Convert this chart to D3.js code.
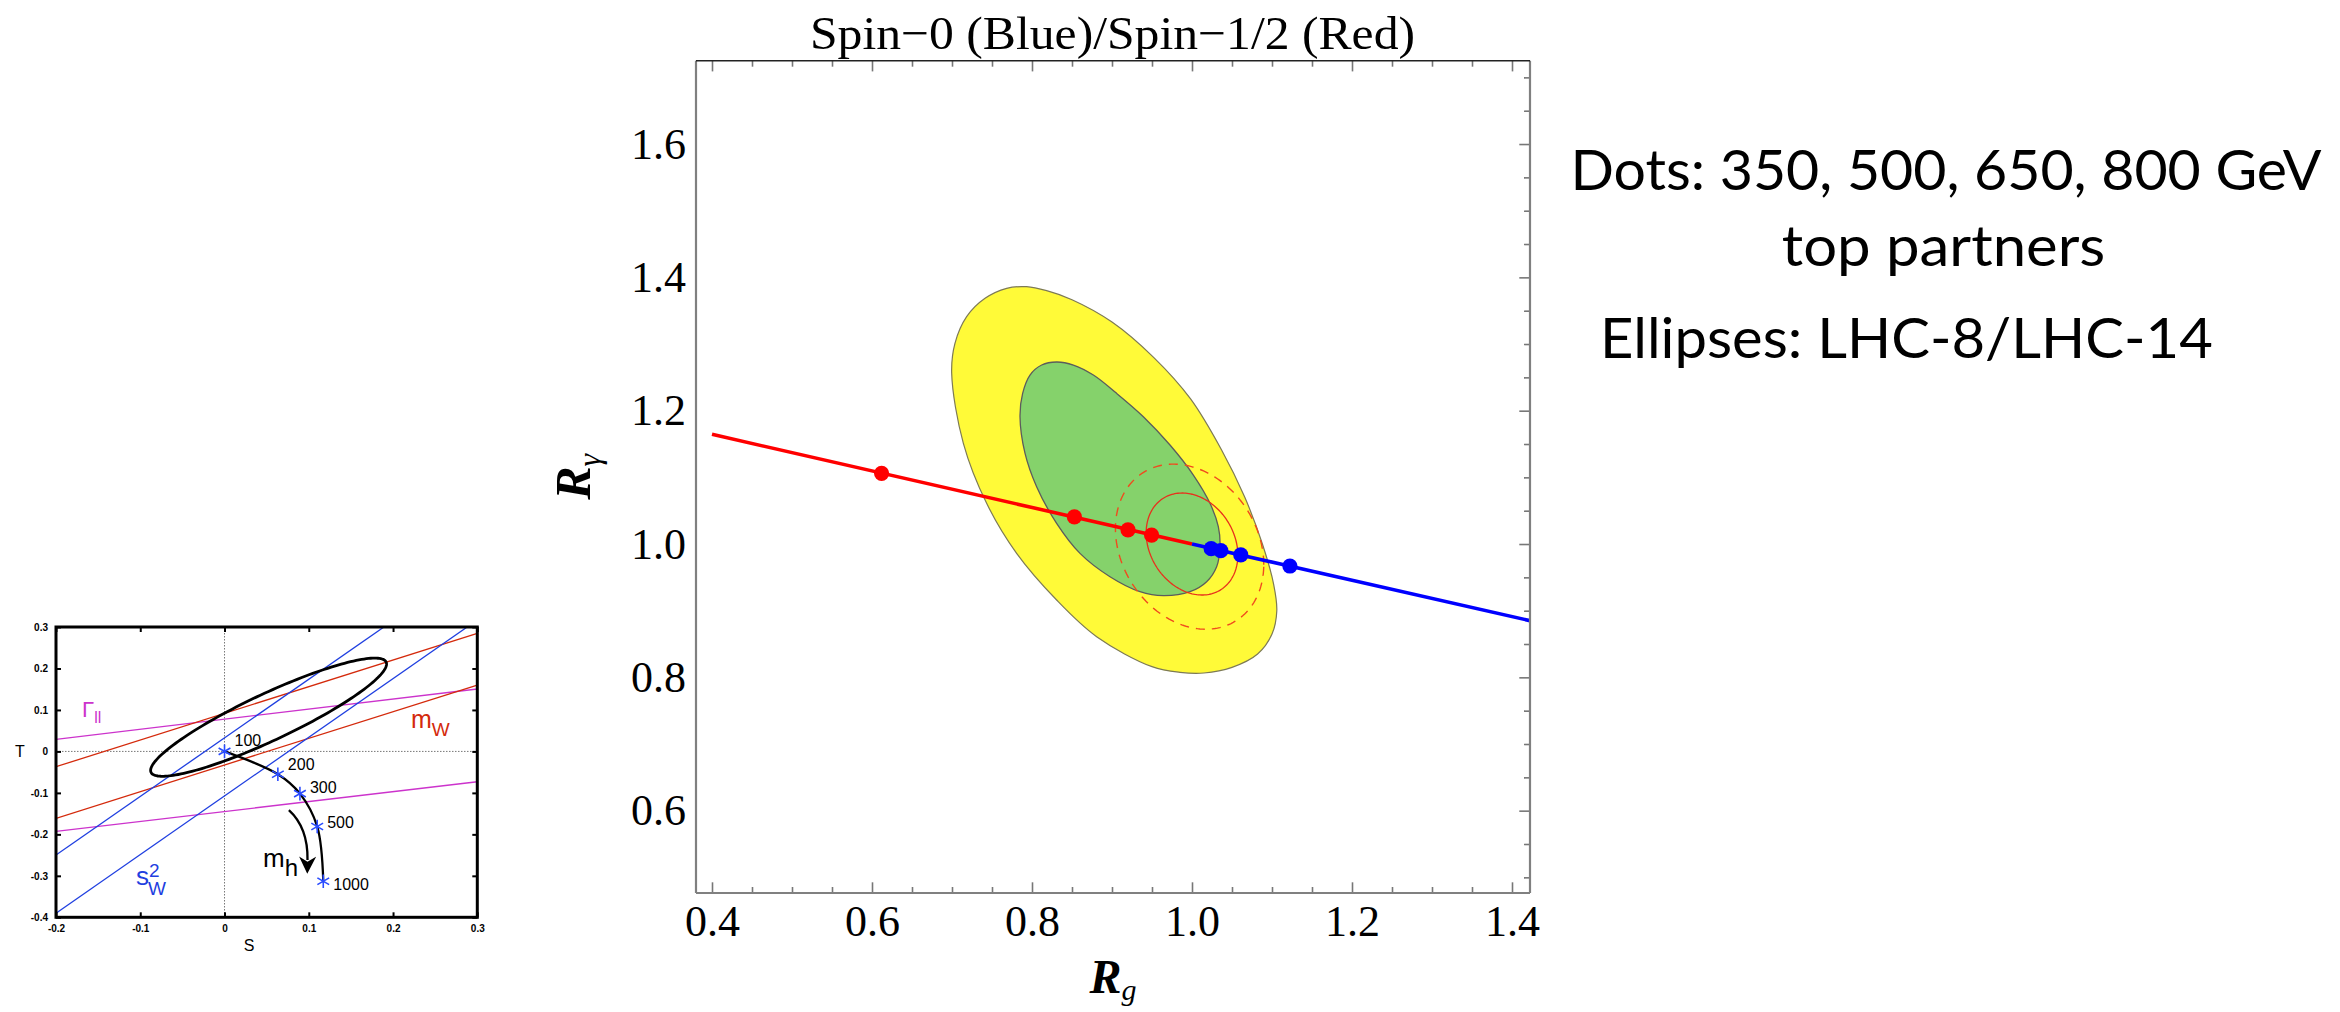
<!DOCTYPE html>
<html>
<head>
<meta charset="utf-8">
<script src="https://cdn.jsdelivr.net/npm/d3@7"></script>
<style>
  body { margin: 0; background: #fff; }
  svg { display: block; }
</style>
</head>
<body>
<div id="chart"></div>
<script>
// ---------- main chart data (Rg, Rgamma) ----------
var spinHalfLine = [[0.4, 1.1645], [1.0, 1.0]];
var spinZeroLine = [[1.0, 1.0], [1.4225, 0.885]];
var spinHalfDots = [[0.612, 1.106], [0.853, 1.0406], [0.920, 1.0213], [0.9495, 1.0132]];
var spinZeroDots = [[1.024, 0.993], [1.036, 0.990], [1.061, 0.9837], [1.1224, 0.967]];

// LHC-8 contours
var lhc8Outer = [[0.6996, 1.256], [0.7037, 1.301], [0.7183, 1.341], [0.7413, 1.3685], [0.7683, 1.3835],
  [0.7933, 1.386], [0.8183, 1.38], [0.85, 1.3665], [0.9, 1.333], [0.952, 1.28], [0.998, 1.218],
  [1.037, 1.141], [1.066, 1.07], [1.088, 1.0], [1.102, 0.94], [1.106, 0.9], [1.1, 0.865],
  [1.082, 0.835], [1.05, 0.815], [1.015, 0.8065], [0.985, 0.8075], [0.95, 0.816], [0.8808, 0.861],
  [0.8308, 0.916], [0.7808, 0.986], [0.7433, 1.061], [0.7142, 1.151]];
var lhc8Inner = [[0.785, 1.191], [0.7883, 1.226], [0.7975, 1.2535], [0.8121, 1.2685], [0.8308, 1.273],
  [0.8517, 1.2685], [0.8767, 1.2535], [0.9058, 1.226], [0.9392, 1.191], [0.9725, 1.1485], [1.0017, 1.1035],
  [1.0225, 1.061], [1.0329, 1.026], [1.035, 0.996], [1.0308, 0.966], [1.0183, 0.9435], [0.9975, 0.9285],
  [0.9642, 0.9225], [0.935, 0.9285], [0.8975, 0.951], [0.86, 0.986], [0.8308, 1.031], [0.8058, 1.086],
  [0.7913, 1.136]];
// LHC-14 ellipses: centre x, centre y, sigma x, sigma y, correlation
var lhc14Inner = [1.0, 1.0, 0.0573, 0.0765, -0.218];
var lhc14Outer = [0.997, 0.996, 0.0927, 0.1238, -0.218];

var xTicks = [0.4, 0.6, 0.8, 1.0, 1.2, 1.4];
var yTicks = [0.6, 0.8, 1.0, 1.2, 1.4, 1.6];
var xMinor = [0.45, 0.5, 0.55, 0.65, 0.7, 0.75, 0.85, 0.9, 0.95, 1.05, 1.1, 1.15, 1.25, 1.3, 1.35];
var yMinor = [0.5, 0.55, 0.65, 0.7, 0.75, 0.85, 0.9, 0.95, 1.05, 1.1, 1.15, 1.25, 1.3, 1.35, 1.45, 1.5, 1.55, 1.65, 1.7];
var noteLines = ["Dots: 350, 500, 650, 800 GeV", "top partners", "Ellipses: LHC-8/LHC-14"];

// ---------- inset S-T plot data ----------
var gammaLines = [[[-0.2, 0.0292], [0.3, 0.1505]], [[-0.2, -0.1927], [0.3, -0.0731]]];
var mwLines = [[[-0.2, -0.0369], [0.3, 0.2848]], [[-0.2, -0.1614], [0.3, 0.1601]]];
var sw2Lines = [[[-0.2, -0.2498], [0.1892, 0.3]], [[-0.2, -0.3904], [0.288, 0.3]]];
var stEllipse = [0.0523, 0.0825, 0.14, 0.1425, 0.9];
var higgsMass = [100, 200, 300, 500, 1000];
var higgsS = [0, 0.0633, 0.0895, 0.110, 0.1172];
var higgsT = [0, -0.055, -0.1017, -0.181, -0.313];
var insetTicksS = [-0.2, -0.1, 0, 0.1, 0.2, 0.3];
var insetTicksT = [-0.4, -0.3, -0.2, -0.1, 0, 0.1, 0.2, 0.3];

var svgWidth = 2340;
var svgHeight = 1012;

var svg = d3.select("#chart")
  .append("svg")
  .attr("width", svgWidth)
  .attr("height", svgHeight);

// ellipse outline from centre / sigmas / correlation
function ellipsePoints(e) {
  return d3.range(0, 361, 2).map(function(a) {
    var t = a * Math.PI / 180;
    return [e[0] + e[2] * Math.cos(t),
            e[1] + e[3] * (e[4] * Math.cos(t) + Math.sqrt(1 - e[4] * e[4]) * Math.sin(t))];
  });
}

// ================= main chart =================
var frame = { left: 696, right: 1530, top: 60.7, bottom: 893 };

var xScale = d3.scaleLinear().domain([0.38, 1.4225]).range([frame.left, frame.right]);
var yScale = d3.scaleLinear().domain([0.4765, 1.725]).range([frame.bottom, frame.top]);

svg.append("clipPath").attr("id", "plotClip")
  .append("rect")
  .attr("x", frame.left).attr("y", frame.top)
  .attr("width", frame.right - frame.left).attr("height", frame.bottom - frame.top);

var plot = svg.append("g").attr("clip-path", "url(#plotClip)");

var line = d3.line().x(d => xScale(d[0])).y(d => yScale(d[1]));
var closedLine = d3.line().x(d => xScale(d[0])).y(d => yScale(d[1])).curve(d3.curveCatmullRomClosed);

plot.append("path").attr("d", closedLine(lhc8Outer))
  .attr("fill", "#fffa38").attr("stroke", "#7d7a55").attr("stroke-width", 1.2);
plot.append("path").attr("d", closedLine(lhc8Inner))
  .attr("fill", "#85d26b").attr("stroke", "#5c5c5c").attr("stroke-width", 1.3);

plot.append("path").attr("d", line(ellipsePoints(lhc14Outer)))
  .attr("fill", "none").attr("stroke", "#f04a1e").attr("stroke-width", 1.4)
  .attr("stroke-dasharray", "9,7");
plot.append("path").attr("d", line(ellipsePoints(lhc14Inner)))
  .attr("fill", "none").attr("stroke", "#e8301c").attr("stroke-width", 1.3);

plot.append("path").attr("d", line(spinHalfLine))
  .attr("fill", "none").attr("stroke", "#ff0000").attr("stroke-width", 3.6);
plot.append("path").attr("d", line(spinZeroLine))
  .attr("fill", "none").attr("stroke", "#0000ff").attr("stroke-width", 3.6);

plot.selectAll(".redDot").data(spinHalfDots).enter().append("circle")
  .attr("cx", d => xScale(d[0])).attr("cy", d => yScale(d[1]))
  .attr("r", 7.6).attr("fill", "#ff0000");
plot.selectAll(".blueDot").data(spinZeroDots).enter().append("circle")
  .attr("cx", d => xScale(d[0])).attr("cy", d => yScale(d[1]))
  .attr("r", 7.6).attr("fill", "#0000ff");

// frame ticks (Mathematica style, pointing inward)
function styleAxis(g, labels) {
  g.select(".domain").remove();
  g.selectAll("line").attr("stroke", "#777").attr("stroke-width", 1.6);
  g.selectAll("text")
    .attr("fill", "#000")
    .style("font-family", "'Liberation Serif', 'Times New Roman', serif")
    .style("font-size", "44px");
  if (!labels) g.selectAll("text").remove();
}

svg.append("g").attr("transform", `translate(0, ${frame.bottom})`)
  .call(d3.axisBottom(xScale).tickValues(xTicks).tickFormat(d3.format(".1f"))
    .tickSizeInner(-10.7).tickSizeOuter(0).tickPadding(12))
  .call(g => styleAxis(g, true));
svg.append("g").attr("transform", `translate(0, ${frame.bottom})`)
  .call(d3.axisBottom(xScale).tickValues(xMinor).tickSizeInner(-6).tickSizeOuter(0))
  .call(g => styleAxis(g, false));
svg.append("g").attr("transform", `translate(0, ${frame.top})`)
  .call(d3.axisTop(xScale).tickValues(xTicks).tickSizeInner(-10.7).tickSizeOuter(0))
  .call(g => styleAxis(g, false));
svg.append("g").attr("transform", `translate(0, ${frame.top})`)
  .call(d3.axisTop(xScale).tickValues(xMinor).tickSizeInner(-6).tickSizeOuter(0))
  .call(g => styleAxis(g, false));

svg.append("g").attr("transform", `translate(${frame.left}, 0)`)
  .call(d3.axisLeft(yScale).tickValues(yTicks).tickFormat(d3.format(".1f"))
    .tickSizeInner(0).tickSizeOuter(0).tickPadding(10))
  .call(g => styleAxis(g, true));
svg.append("g").attr("transform", `translate(${frame.right}, 0)`)
  .call(d3.axisRight(yScale).tickValues(yTicks).tickSizeInner(-10.7).tickSizeOuter(0))
  .call(g => styleAxis(g, false));
svg.append("g").attr("transform", `translate(${frame.right}, 0)`)
  .call(d3.axisRight(yScale).tickValues(yMinor).tickSizeInner(-6).tickSizeOuter(0))
  .call(g => styleAxis(g, false));

// frame lines
var frameG = svg.append("g").attr("fill", "none");
frameG.append("line").attr("x1", frame.left).attr("x2", frame.right)
  .attr("y1", frame.bottom).attr("y2", frame.bottom).attr("stroke", "#808080").attr("stroke-width", 2.2);
frameG.append("line").attr("x1", frame.left).attr("x2", frame.left)
  .attr("y1", frame.top).attr("y2", frame.bottom).attr("stroke", "#808080").attr("stroke-width", 2.2);
frameG.append("line").attr("x1", frame.right).attr("x2", frame.right)
  .attr("y1", frame.top).attr("y2", frame.bottom).attr("stroke", "#808080").attr("stroke-width", 2.2);
frameG.append("line").attr("x1", frame.left).attr("x2", frame.right)
  .attr("y1", frame.top).attr("y2", frame.top).attr("stroke", "#222").attr("stroke-width", 1.6);

// title and axis labels
svg.append("text")
  .attr("x", 810).attr("y", 49)
  .attr("textLength", 605).attr("lengthAdjust", "spacingAndGlyphs")
  .style("font-family", "'Liberation Serif', 'Times New Roman', serif")
  .style("font-size", "47px")
  .text("Spin\u22120 (Blue)/Spin\u22121/2 (Red)");

var rg = svg.append("text")
  .attr("x", (frame.left + frame.right) / 2).attr("y", 993)
  .attr("text-anchor", "middle")
  .style("font-family", "'Liberation Serif', 'Times New Roman', serif")
  .style("font-style", "italic");
rg.append("tspan").style("font-size", "48px").style("font-weight", "bold").text("R");
rg.append("tspan").style("font-size", "30px").attr("dy", 7).text("g");

var ry = svg.append("text")
  .attr("transform", `translate(590, ${(frame.top + frame.bottom) / 2}) rotate(-90)`)
  .attr("text-anchor", "middle")
  .style("font-family", "'Liberation Serif', 'Times New Roman', serif")
  .style("font-style", "italic");
ry.append("tspan").style("font-size", "50px").style("font-weight", "bold").text("R");
ry.append("tspan").style("font-size", "32px").attr("dy", 10).text("\u03B3");

// notes on the right
var notePos = [[1570.5, 190, 751], [1781.8, 266, 323.5], [1600, 358, 612.8]];
svg.selectAll(".note").data(noteLines).enter().append("text")
  .attr("x", (d, i) => notePos[i][0])
  .attr("y", (d, i) => notePos[i][1])
  .attr("textLength", (d, i) => notePos[i][2])
  .attr("lengthAdjust", "spacingAndGlyphs")
  .style("font-family", "Lato, 'Open Sans', sans-serif")
  .style("font-size", "57px")
  .text(d => d);

// ================= inset S-T plot =================
var inset = { left: 56, right: 477.3, top: 627, bottom: 917.3 };
var sScale = d3.scaleLinear().domain([-0.2, 0.3]).range([inset.left, inset.right]);
var tScale = d3.scaleLinear().domain([-0.4, 0.3]).range([inset.bottom, inset.top]);
var stLine = d3.line().x(d => sScale(d[0])).y(d => tScale(d[1]));

svg.append("clipPath").attr("id", "insetClip")
  .append("rect")
  .attr("x", inset.left).attr("y", inset.top)
  .attr("width", inset.right - inset.left).attr("height", inset.bottom - inset.top);
var ip = svg.append("g").attr("clip-path", "url(#insetClip)");

// zero lines
ip.append("line").attr("x1", sScale(0)).attr("x2", sScale(0))
  .attr("y1", inset.top).attr("y2", inset.bottom)
  .attr("stroke", "#777").attr("stroke-width", 1).attr("stroke-dasharray", "1.5,1.5");
ip.append("line").attr("x1", inset.left).attr("x2", inset.right)
  .attr("y1", tScale(0)).attr("y2", tScale(0))
  .attr("stroke", "#777").attr("stroke-width", 1).attr("stroke-dasharray", "1.5,1.5");

ip.selectAll(".gl").data(gammaLines).enter().append("path")
  .attr("d", stLine).attr("fill", "none").attr("stroke", "#cc33cc").attr("stroke-width", 1.3);
ip.selectAll(".ml").data(mwLines).enter().append("path")
  .attr("d", stLine).attr("fill", "none").attr("stroke", "#d42a0c").attr("stroke-width", 1.3);
ip.selectAll(".sl").data(sw2Lines).enter().append("path")
  .attr("d", stLine).attr("fill", "none").attr("stroke", "#1f3fe0").attr("stroke-width", 1.3);

ip.append("path").attr("d", stLine(ellipsePoints(stEllipse)))
  .attr("fill", "none").attr("stroke", "#000").attr("stroke-width", 2.8);

var higgsPts = higgsMass.map((m, i) => [higgsS[i], higgsT[i]]);
ip.append("path").attr("d", stLine.curve(d3.curveCatmullRom)(higgsPts))
  .attr("fill", "none").attr("stroke", "#000").attr("stroke-width", 2.3);
stLine.curve(d3.curveLinear);

var star = d3.symbol().type(d3.symbolAsterisk || d3.symbolCross).size(130);
ip.selectAll(".star").data(higgsPts).enter().append("path")
  .attr("transform", d => `translate(${sScale(d[0])}, ${tScale(d[1])})`)
  .attr("d", star).attr("fill", "none").attr("stroke", "#2a4cff").attr("stroke-width", 1.6);

var labelDy = [-5, -4, -1, 2, 9];
svg.selectAll(".mass").data(higgsMass).enter().append("text")
  .attr("x", (d, i) => sScale(higgsS[i]) + 10)
  .attr("y", (d, i) => tScale(higgsT[i]) + labelDy[i])
  .style("font-family", "'Liberation Sans', Arial, sans-serif")
  .style("font-size", "16px")
  .text(d => d);

// m_h arrow
svg.append("defs").append("marker")
  .attr("id", "head").attr("viewBox", "0 0 10 10")
  .attr("refX", 2).attr("refY", 5)
  .attr("markerWidth", 18).attr("markerHeight", 17)
  .attr("markerUnits", "userSpaceOnUse")
  .attr("orient", "auto")
  .append("path").attr("d", "M0,0 L10,5 L0,10 L3,5 Z").attr("fill", "#000");
var a0 = [0.0764, -0.1415], a1 = [0.0992, -0.1837], a2 = [0.0985, -0.262];
svg.append("path")
  .attr("d", `M${sScale(a0[0])},${tScale(a0[1])} Q${sScale(a1[0])},${tScale(a1[1])} ${sScale(a2[0])},${tScale(a2[1])}`)
  .attr("fill", "none").attr("stroke", "#000").attr("stroke-width", 2.3)
  .attr("marker-end", "url(#head)");

// inset frame and ticks
function styleInset(g, labels) {
  g.select(".domain").remove();
  g.selectAll("line").attr("stroke", "#000").attr("stroke-width", 2);
  g.selectAll("text")
    .attr("fill", "#000")
    .style("font-family", "'Liberation Sans', Arial, sans-serif")
    .style("font-weight", "bold")
    .style("font-size", "10px");
  if (!labels) g.selectAll("text").remove();
}
var insetFmt = d => d === 0 ? "0" : d3.format(".1f")(d).replace("\u2212", "-");
svg.append("g").attr("transform", `translate(0, ${inset.bottom})`)
  .call(d3.axisBottom(sScale).tickValues(insetTicksS).tickFormat(insetFmt)
    .tickSizeInner(-5).tickSizeOuter(0).tickPadding(8))
  .call(g => styleInset(g, true));
svg.append("g").attr("transform", `translate(0, ${inset.top})`)
  .call(d3.axisTop(sScale).tickValues(insetTicksS).tickSizeInner(-5).tickSizeOuter(0))
  .call(g => styleInset(g, false));
svg.append("g").attr("transform", `translate(${inset.left}, 0)`)
  .call(d3.axisLeft(tScale).tickValues(insetTicksT).tickFormat(insetFmt)
    .tickSizeInner(-5).tickSizeOuter(0).tickPadding(8))
  .call(g => styleInset(g, true));
svg.append("g").attr("transform", `translate(${inset.right}, 0)`)
  .call(d3.axisRight(tScale).tickValues(insetTicksT).tickSizeInner(-5).tickSizeOuter(0))
  .call(g => styleInset(g, false));

svg.append("rect")
  .attr("x", inset.left).attr("y", inset.top)
  .attr("width", inset.right - inset.left).attr("height", inset.bottom - inset.top)
  .attr("fill", "none").attr("stroke", "#000").attr("stroke-width", 3);

var sans = "'Liberation Sans', Arial, sans-serif";
svg.append("text").attr("x", 20).attr("y", 757).attr("text-anchor", "middle")
  .style("font-family", sans).style("font-size", "16px").text("T");
svg.append("text").attr("x", 249).attr("y", 951).attr("text-anchor", "middle")
  .style("font-family", sans).style("font-size", "16px").text("S");

var gl = svg.append("text").attr("x", 82).attr("y", 717)
  .attr("fill", "#cc33cc").style("font-family", sans).style("font-size", "22px");
gl.append("tspan").text("\u0393");
gl.append("tspan").attr("dy", 6).style("font-size", "16px").text("ll");

var mw = svg.append("text").attr("x", 411).attr("y", 728)
  .attr("fill", "#d42a0c").style("font-family", sans).style("font-size", "25px");
mw.append("tspan").text("m");
mw.append("tspan").attr("dy", 8).style("font-size", "19px").text("W");

var sw = svg.append("text").attr("x", 136).attr("y", 885)
  .attr("fill", "#1f3fe0").style("font-family", sans).style("font-size", "26px");
sw.append("tspan").text("s");
sw.append("tspan").attr("dy", -8).style("font-size", "19px").text("2");
sw.append("tspan").attr("x", 148).attr("dy", 18).style("font-size", "19px").text("W");

var mh = svg.append("text").attr("x", 263).attr("y", 867)
  .attr("fill", "#000").style("font-family", sans).style("font-size", "26px");
mh.append("tspan").text("m");
mh.append("tspan").attr("dy", 9).style("font-size", "24px").text("h");
</script>
</body>
</html>
